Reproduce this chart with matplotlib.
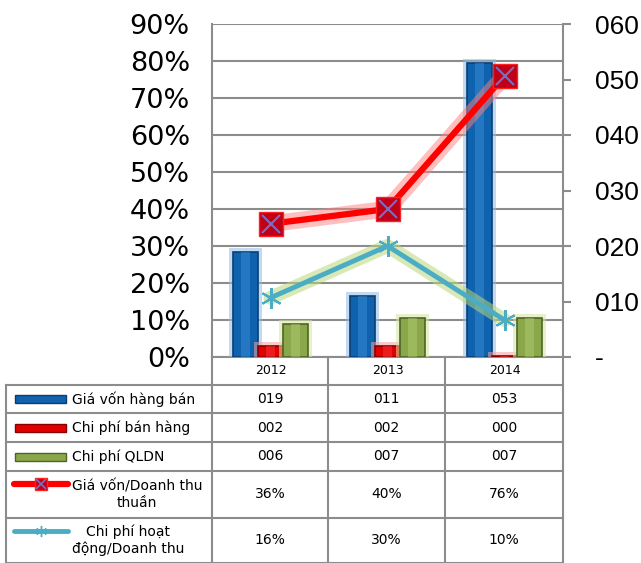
import matplotlib
matplotlib.use("Agg")
from matplotlib import pyplot as plt
from matplotlib.lines import Line2D
from matplotlib.ticker import FuncFormatter, MultipleLocator
import numpy as np

years = ['2012', '2013', '2014']
gia_von = [19, 11, 53]            # right axis
chi_phi_ban_hang = [2, 2, 0.2]
chi_phi_qldn = [6, 7, 7]
gv_dt = [0.36, 0.40, 0.76]        # left axis
cphd_dt = [0.16, 0.30, 0.10]

row_labels = ['Giá vốn hàng bán', 'Chi phí bán hàng', 'Chi phí QLDN',
              'Giá vốn/Doanh thu\nthuần', 'Chi phí hoạt\nđộng/Doanh thu']

W, H = 641, 563
fig = plt.figure(figsize=(W / 100, H / 100), dpi=100)


def fx(x):
    return x / W


def fy(y):
    return 1 - y / H


L, R, T, B = 212, 563, 24, 357
rect = [fx(L), fy(B), fx(R) - fx(L), fy(T) - fy(B)]
grey = '#8c8c8c'

ax = fig.add_axes(rect, zorder=1)
ax.set_xlim(-0.5, 2.5)
ax.set_ylim(0, 0.9)
ax.yaxis.set_major_locator(MultipleLocator(0.1))
ax.yaxis.set_major_formatter(FuncFormatter(lambda v, p: f'{v * 100:.0f}%'))
ax.tick_params(axis='y', length=0, labelsize=19.5, pad=16)
ax.grid(axis='y', color=grey, lw=1.5)
ax.set_xticks(range(3))
ax.set_xticklabels(years, fontsize=9)
ax.tick_params(axis='x', length=0, pad=5)
for s in ax.spines.values():
    s.set_color(grey)
    s.set_linewidth(1.5)
ax.spines['top'].set_visible(False)

# bars on the right axis
axb = ax.twinx()
axb.set_zorder(2)
axb.patch.set_visible(False)
axb.set_ylim(0, 60)
axb.yaxis.set_major_locator(MultipleLocator(10))
axb.yaxis.set_major_formatter(FuncFormatter(lambda v, p: '-' if v == 0 else f'{int(v):03d}'))
axb.tick_params(axis='y', length=6, width=1.5, color=grey, labelsize=19, pad=17)
for t in axb.get_yticklabels():
    t.set_fontfamily('Liberation Sans')
for s in axb.spines.values():
    s.set_visible(False)

x = np.arange(3)
bw = 0.215
gx = 4 / 117
gy = 4 / 55.5 * 10
series = [
    (gia_von, -bw, '#0f62ad', '#0a3f73', '#8fbde6', '#3d93db'),
    (chi_phi_ban_hang, 0, '#e00000', '#8a0000', '#f4a0a0', '#ff4040'),
    (chi_phi_qldn, bw, '#8aa84a', '#4f6426', '#d3e6a0', '#b4cf78'),
]
for vals, off, col, edge, glow, light in series:
    v = np.array(vals)
    axb.bar(x + off, v + gy, width=bw + 2 * gx, color=glow, alpha=0.55, lw=0)
    axb.bar(x + off, v, width=bw, color=col, edgecolor=edge, lw=1.2)
    axb.bar(x + off, v, width=bw * 0.35, color=light, alpha=0.45, lw=0)

# lines on the left scale
axl = ax.twinx()
axl.set_zorder(3)
axl.patch.set_visible(False)
axl.set_ylim(0, 0.9)
axl.set_yticks([])
for s in axl.spines.values():
    s.set_visible(False)

axl.plot(x, gv_dt, color='#ff8080', lw=12, alpha=0.5, solid_capstyle='round')
axl.plot(x, gv_dt, color='#ff0000', lw=4.5)
axl.plot(x, gv_dt, ls='none', marker='s', ms=17, mfc='#c00018', mec='#ff2020', mew=1)
axl.plot(x, gv_dt, ls='none', marker='x', ms=13, mec='#7a6fc0', mew=1.5)

axl.plot(x, cphd_dt, color='#b8d878', lw=10, alpha=0.55, solid_capstyle='round')
axl.plot(x, cphd_dt, color='#4bacc6', lw=3.5)
axl.plot(x, cphd_dt, ls='none', marker=(6, 2, 0), ms=15, mec='#4bacc6', mew=1.5)

# data table below the chart
cols = [L, 328, 445, R]
rows = [385, 413, 442, 471, 518, 563]
tl = dict(color=grey, lw=1.5, transform=fig.transFigure)
for c in cols[1:]:
    fig.add_artist(Line2D([fx(c), fx(c)], [fy(B), fy(563)], **tl))
fig.add_artist(Line2D([fx(L), fx(L)], [fy(B), fy(563)], **tl))
fig.add_artist(Line2D([fx(6), fx(6)], [fy(rows[0]), fy(563)], **tl))
for r in rows:
    fig.add_artist(Line2D([fx(6), fx(R)], [fy(r), fy(r)], **tl))

table_vals = [
    [f'{round(v):03d}' for v in gia_von],
    [f'{round(v):03d}' for v in chi_phi_ban_hang],
    [f'{round(v):03d}' for v in chi_phi_qldn],
    [f'{v * 100:.0f}%' for v in gv_dt],
    [f'{v * 100:.0f}%' for v in cphd_dt],
]
keys = [('bar', '#0f62ad', '#0a3f73'), ('bar', '#e00000', '#8a0000'),
        ('bar', '#8aa84a', '#4f6426'), ('red', None, None), ('cyan', None, None)]
for i, lab in enumerate(row_labels):
    top, bot = rows[i], rows[i + 1]
    mid = (top + bot) / 2
    fig.text(fx(72), fy(mid), lab, fontsize=10, ha='left', va='center',
             multialignment='center')
    ky = mid if '\n' not in lab else top + 13
    kind, col, edge = keys[i]
    if kind == 'bar':
        fig.patches.append(plt.Rectangle((fx(15), fy(ky + 4)), fx(66) - fx(15),
                                         fy(ky - 4) - fy(ky + 4), color=col, ec=edge,
                                         lw=1, transform=fig.transFigure, figure=fig))
    elif kind == 'red':
        fig.add_artist(Line2D([fx(14), fx(68)], [fy(ky), fy(ky)], color='#ff0000', lw=4.5,
                              solid_capstyle='round', transform=fig.transFigure))
        fig.add_artist(Line2D([fx(41)], [fy(ky)], ls='none', marker='s', ms=9, mfc='#c00018',
                              mec='#ff2020', transform=fig.transFigure))
        fig.add_artist(Line2D([fx(41)], [fy(ky)], ls='none', marker='x', ms=7, mec='#7a6fc0',
                              mew=1.2, transform=fig.transFigure))
    else:
        fig.add_artist(Line2D([fx(14), fx(68)], [fy(ky), fy(ky)], color='#4bacc6', lw=3.5,
                              solid_capstyle='round', transform=fig.transFigure))
        fig.add_artist(Line2D([fx(41)], [fy(ky)], ls='none', marker=(6, 2, 0), ms=8,
                              mec='#4bacc6', transform=fig.transFigure))
    for j, v in enumerate(table_vals[i]):
        cx = (cols[j] + cols[j + 1]) / 2
        fig.text(fx(cx), fy(mid), v, fontsize=10, ha='center', va='center')

fig.savefig('out.png', dpi=100)
